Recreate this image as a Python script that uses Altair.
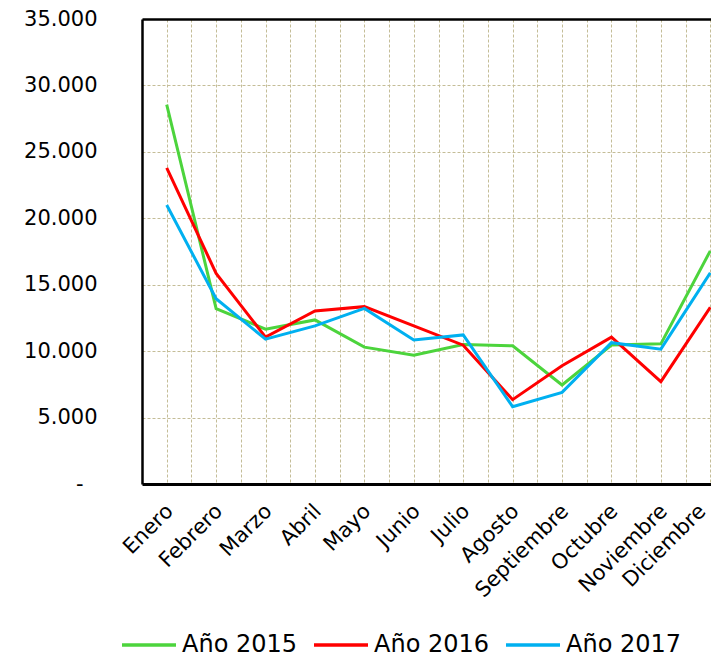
import altair as alt
import pandas as pd

meses = ["Enero", "Febrero", "Marzo", "Abril", "Mayo", "Junio", "Julio",
         "Agosto", "Septiembre", "Octubre", "Noviembre", "Diciembre"]
anio_2015 = [28550, 13200, 11650, 12350, 10300, 9700, 10500, 10400, 7450, 10460, 10550, 17550]
anio_2016 = [23800, 15850, 11050, 13020, 13350, 11900, 10450, 6350, 8900, 11050, 7700, 13300]
anio_2017 = [21000, 13950, 10900, 11900, 13220, 10840, 11220, 5820, 6900, 10640, 10150, 15900]
series = ["Año 2015", "Año 2016", "Año 2017"]
colores = ["#4CD43C", "#FF0000", "#00B0F0"]
y_ticks = [0, 5000, 10000, 15000, 20000, 25000, 30000, 35000]

rows = []
for nombre, valores in zip(series, [anio_2015, anio_2016, anio_2017]):
    for m, v in zip(meses, valores):
        rows.append({"Mes": m, "Serie": nombre, "Valor": v})
df = pd.DataFrame(rows)

GRID = "#C4BD97"
X_RANGE = [0, 593]

lines = alt.Chart(df).mark_line(strokeWidth=3).encode(
    x=alt.X("Mes:N", sort=meses,
            scale=alt.Scale(type="point", range=X_RANGE, padding=0.5),
            axis=alt.Axis(title=None, labelAngle=-45, labelAlign="right",
                          labelBaseline="top", labelPadding=16,
                          labelOffset={"expr": "datum.value == 'Diciembre' ? -16 : -5"},
                          labelFontSize=21, labelColor="black", ticks=False,
                          grid=True, gridColor=GRID, gridDash=[3, 2], gridWidth=1,
                          domainColor="black", domainWidth=3)),
    y=alt.Y("Valor:Q", scale=alt.Scale(domain=[0, 35000], nice=False),
            axis=alt.Axis(title=None, values=y_ticks,
                          labelExpr="datum.value == 0 ? '-' : replace(format(datum.value, ','), ',', '.')",
                          labelPadding={"expr": "datum.value == 0 ? 59 : 45"},
                          labelFontSize=21, labelColor="black",
                          ticks=False, grid=True, gridColor=GRID, gridDash=[3, 2],
                          gridWidth=1, domainColor="black", domainWidth=2.5)),
    color=alt.Color("Serie:N", scale=alt.Scale(domain=series, range=colores),
                    legend=alt.Legend(title=None, orient="none", legendX=-22, legendY=597,
                                      direction="horizontal", symbolType="stroke",
                                      symbolSize=2916, symbolStrokeWidth=3.5,
                                      labelFontSize=24, labelColor="black",
                                      labelOffset=4, columnPadding=9, padding=0)),
)

grid_b = alt.Chart(df).mark_rule(opacity=0).encode(
    x=alt.X("Mes:N", sort=meses,
            scale=alt.Scale(type="band", range=X_RANGE, paddingInner=0, paddingOuter=0),
            axis=alt.Axis(orient="top", title=None, labels=False, ticks=False,
                          grid=True, tickBand="extent", gridColor=GRID,
                          gridDash=[3, 2], gridWidth=1,
                          domainColor="black", domainWidth=2.5)),
)

chart = alt.layer(grid_b, lines).resolve_scale(x="independent").properties(
    width=569, height=465,
    autosize=alt.AutoSizeParams(type="none"),
    padding={"left": 134, "top": 11, "right": 0, "bottom": 173},
).configure(font="DejaVu Sans").configure_view(stroke=None)

chart.save("out.html", embed_options={"renderer": "svg", "actions": False})
